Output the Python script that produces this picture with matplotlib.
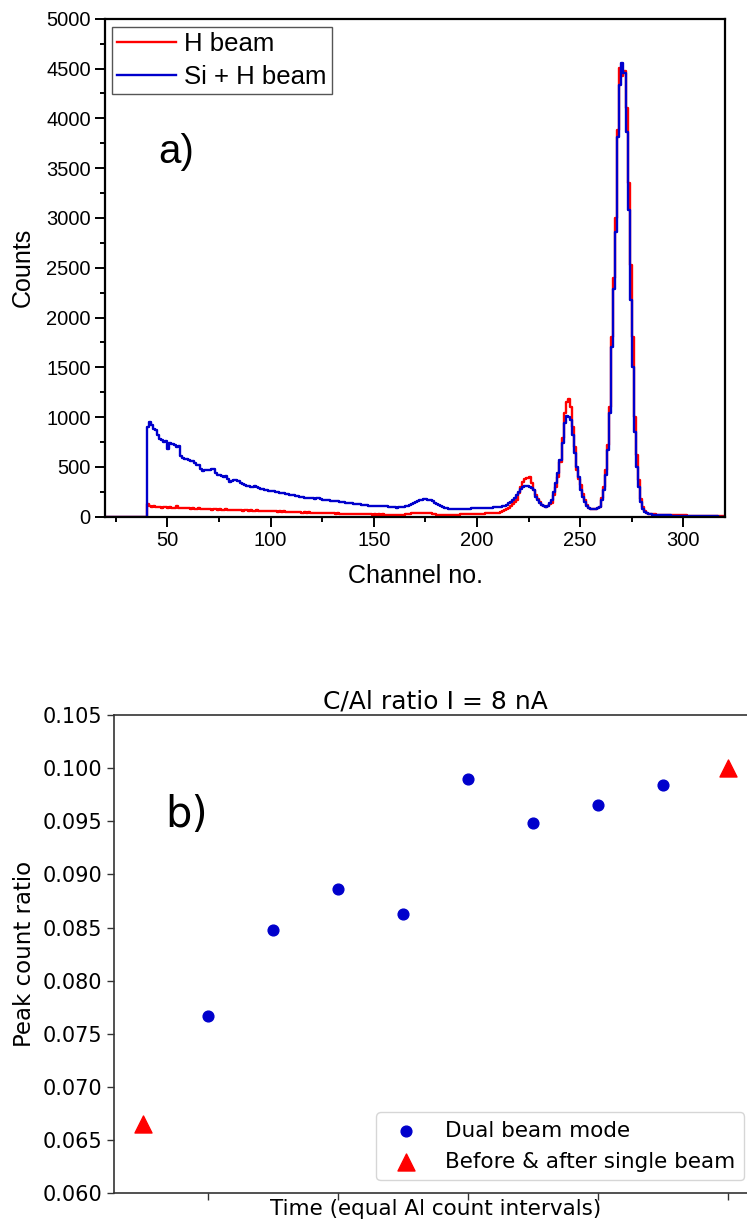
import numpy as np
import matplotlib
matplotlib.use("Agg")
from matplotlib import pyplot as plt
from matplotlib.ticker import MultipleLocator, FixedLocator, FormatStrFormatter

# ---- panel a) spectra, one value per channel (20..320) ----
channels = np.arange(20, 321)

si_h_beam = [0] * 20 + [
    900, 955, 920, 880, 870, 820, 780, 770, 755, 760,          # 40
    680, 740, 730, 720, 700, 710, 610, 590, 580, 575,          # 50
    570, 560, 555, 540, 520, 515, 480, 462, 465, 470,          # 60
    468, 475, 478, 440, 418, 420, 405, 403, 410, 380,          # 70
    352, 355, 365, 368, 362, 340, 325, 315, 308, 310,          # 80
    300, 295, 305, 295, 290, 282, 275, 270, 268, 262,          # 90
    261, 258, 250, 245, 241, 240, 235, 230, 225, 222,          # 100
    218, 215, 210, 205, 200, 195, 190, 184, 188, 185,          # 110
    186, 180, 184, 183, 178, 172, 170, 165, 163, 162,          # 120
    161, 158, 155, 150, 148, 145, 141, 140, 138, 135,          # 130
    130, 128, 125, 127, 122, 118, 115, 112, 110, 107,          # 140
    108, 105, 110, 106, 104, 107, 107, 100, 98, 96,            # 150
    95, 92, 94, 98, 100, 104, 110, 118, 126, 134,              # 160
    145, 155, 165, 172, 178, 176, 172, 168, 155, 140,          # 170
    127, 115, 105, 95, 88, 84, 80, 78, 76, 75,                 # 180
    74, 74, 76, 75, 78, 80, 82, 83, 84, 85,                    # 190
    84, 85, 86, 88, 88, 90, 90, 92, 93, 94,                    # 200
    96, 100, 105, 112, 122, 135, 150, 170, 192, 218,           # 210
    250, 275, 295, 308, 310, 302, 285, 265, 200, 168,          # 220
    140, 120, 105, 100, 110, 135, 168, 250, 335, 436,          # 230
    570, 737, 938, 1011, 1000, 971, 820, 636, 500, 402,        # 240
    268, 200, 150, 110, 84, 78, 74, 75, 85, 100,               # 250
    170, 268, 420, 670, 1040, 1700, 2290, 2860, 3815, 4330,    # 260
    4560, 4450, 3865, 3080, 2175, 1500, 850, 500, 300, 150,    # 270
    80, 50, 35, 28, 24, 20, 18, 17, 16, 15,                    # 280
    15, 14, 14, 13, 12, 12, 11, 10, 10, 9,                     # 290
    9, 8, 8, 7, 7, 6, 6, 5, 5, 5,                              # 300
    4, 4, 4, 3, 3, 3, 3, 2, 2, 2, 2,                           # 310-320
]

h_beam = [0] * 20 + [
    127, 110, 100, 105, 95, 102, 98, 92, 96, 100,              # 40
    90, 95, 88, 92, 110, 90, 88, 85, 92, 84,                   # 50
    86, 80, 88, 82, 78, 84, 80, 76, 82, 75,                    # 60
    78, 72, 80, 74, 70, 76, 72, 68, 74, 70,                    # 70
    66, 72, 68, 64, 70, 66, 62, 68, 64, 60,                    # 80
    66, 62, 58, 64, 60, 56, 62, 58, 55, 60,                    # 90
    58, 54, 57, 52, 55, 50, 53, 49, 51, 47,                    # 100
    50, 46, 48, 44, 47, 42, 45, 41, 43, 40,                    # 110
    42, 38, 40, 37, 39, 35, 38, 34, 36, 33,                    # 120
    35, 31, 34, 30, 32, 29, 31, 28, 30, 27,                    # 130
    29, 26, 28, 25, 27, 24, 26, 23, 25, 22,                    # 140
    27, 22, 24, 20, 23, 19, 21, 18, 20, 17,                    # 150
    17, 19, 18, 20, 22, 24, 27, 30, 33, 36,                    # 160
    38, 40, 41, 42, 40, 38, 36, 33, 28, 24,                    # 170
    21, 19, 17, 18, 17, 17, 19, 18, 20, 21,                    # 180
    22, 21, 23, 24, 23, 25, 26, 25, 27, 27,                    # 190
    28, 30, 31, 32, 33, 34, 36, 37, 38, 40,                    # 200
    42, 48, 56, 66, 76, 88, 104, 128, 150, 168,                # 210
    240, 302, 345, 375, 390, 395, 335, 270, 218, 180,          # 220
    150, 120, 105, 100, 110, 125, 134, 220, 302, 402,          # 230
    553, 787, 1038, 1150, 1179, 1105, 904, 703, 469, 380,      # 240
    318, 230, 168, 120, 84, 78, 74, 75, 85, 100,               # 250
    190, 300, 469, 720, 1100, 1800, 2400, 3000, 3880, 4510,    # 260
    4420, 4470, 4100, 3350, 2530, 1800, 1000, 620, 370, 180,   # 270
    100, 60, 40, 32, 28, 25, 23, 22, 21, 20,                   # 280
    20, 21, 22, 20, 19, 20, 18, 17, 16, 15,                    # 290
    14, 13, 12, 11, 10, 9, 9, 8, 8, 7,                         # 300
    7, 6, 6, 5, 5, 5, 4, 4, 4, 3, 3,                           # 310-320
]

# ---- panel b) ratios ----
dual_x = [1, 2, 3, 4, 5, 6, 7, 8]
dual_ratio = [0.0767, 0.0848, 0.0886, 0.0863, 0.0990, 0.0948, 0.0965, 0.0984]
single_x = [0, 9]
single_ratio = [0.0665, 0.1000]

W, H = 747, 1221
fig = plt.figure(figsize=(W / 100, H / 100), dpi=100)

arial = ["Liberation Sans", "DejaVu Sans"]

# ---------------- top panel ----------------
ax1 = fig.add_axes([105.4 / W, 1 - 516.7 / H, 619.2 / W, 498 / H])
ax1.step(channels, h_beam, where="post", color="#ff0000", lw=1.7, label="H beam")
ax1.step(channels, si_h_beam, where="post", color="#0000cc", lw=1.7, label="Si + H beam")
ax1.set_xlim(20, 320)
ax1.set_ylim(0, 5000)
ax1.xaxis.set_major_locator(MultipleLocator(50))
ax1.xaxis.set_minor_locator(MultipleLocator(25))
ax1.yaxis.set_major_locator(MultipleLocator(500))
ax1.yaxis.set_minor_locator(MultipleLocator(250))
ax1.tick_params(which="major", direction="out", length=7, width=1.4, labelsize=14.5)
ax1.tick_params(which="minor", direction="out", length=3.6, width=1.4)
for lab in ax1.get_xticklabels() + ax1.get_yticklabels():
    lab.set_family(arial)
for s in ax1.spines.values():
    s.set_linewidth(1.6)
ax1.set_xlabel("Channel no.", fontsize=18, family=arial, labelpad=10)
ax1.set_ylabel("Counts", fontsize=18, family=arial, labelpad=8)
ax1.text(0.085, 0.732, "a)", transform=ax1.transAxes, fontsize=29,
         family=arial, va="center", ha="left")
leg1 = ax1.legend(loc="upper left", bbox_to_anchor=(0.0107, 0.9833),
                  borderaxespad=0, fancybox=False, framealpha=1,
                  edgecolor="#555555", prop={"family": arial, "size": 18.5},
                  handlelength=2.3, handletextpad=0.3, borderpad=0.2,
                  labelspacing=0.35)
leg1.get_frame().set_linewidth(1.0)

# ---------------- bottom panel ----------------
ax2 = fig.add_axes([114 / W, 1 - 1193.3 / H, 643 / W, 478.3 / H])
ax2.scatter(dual_x, dual_ratio, s=60, color="#0000cc", label="Dual beam mode", zorder=3)
ax2.scatter(single_x, single_ratio, s=150, marker="^", color="#ff0000",
            label="Before & after single beam", zorder=3)
ax2.set_xlim(-0.45, 9.45)
ax2.set_ylim(0.060, 0.105)
ax2.xaxis.set_major_locator(FixedLocator([1, 3, 5, 7, 9]))
ax2.set_xticklabels([])
ax2.yaxis.set_major_locator(MultipleLocator(0.005))
ax2.yaxis.set_major_formatter(FormatStrFormatter("%.3f"))
ax2.tick_params(labelsize=15, length=5, width=1.0, color="#333333")
for s in ax2.spines.values():
    s.set_linewidth(1.2)
    s.set_color("#333333")
ax2.set_title("C/Al ratio I = 8 nA", fontsize=18, pad=5)
ax2.set_ylabel("Peak count ratio", fontsize=16.5, labelpad=5)
ax2.set_xlabel("Time (equal Al count intervals)", fontsize=15.5)
ax2.xaxis.set_label_coords(0.5, -0.012)
ax2.text(0.079, 0.791, "b)", transform=ax2.transAxes, fontsize=30,
         va="center", ha="left")
ax2.legend(loc="lower right", fontsize=15.5, borderaxespad=0.6,
           bbox_to_anchor=(1.0, 0.0))

fig.savefig("out.png", dpi=100)
